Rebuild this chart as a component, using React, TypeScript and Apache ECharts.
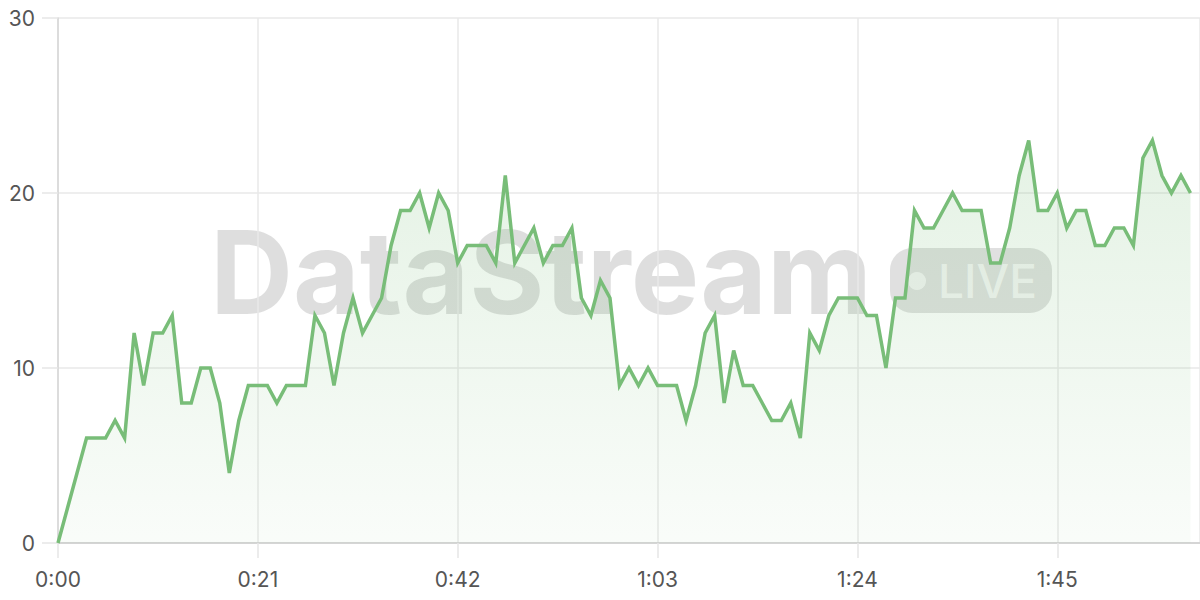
import React, { useEffect, useRef } from "react";
import * as echarts from "echarts";

// Values per second, 0:00 .. 1:59
const values: number[] = [
  0, 2, 4, 6, 6, 6, 7, 6, 12, 9,
  12, 12, 13, 8, 8, 10, 10, 8, 4, 7,
  9, 9, 9, 8, 9, 9, 9, 13, 12, 9,
  12, 14, 12, 13, 14, 17, 19, 19, 20, 18,
  20, 19, 16, 17, 17, 17, 16, 21, 16, 17,
  18, 16, 17, 17, 18, 14, 13, 15, 14, 9,
  10, 9, 10, 9, 9, 9, 7, 9, 12, 13,
  8, 11, 9, 9, 8, 7, 7, 8, 6, 12,
  11, 13, 14, 14, 14, 13, 13, 10, 14, 14,
  19, 18, 18, 19, 20, 19, 19, 19, 16, 16,
  18, 21, 23, 19, 19, 20, 18, 19, 19, 17,
  17, 18, 18, 17, 22, 23, 21, 20, 21, 20,
];

const xTickSeconds: number[] = [0, 21, 42, 63, 84, 105];
const yTicks: number[] = [0, 10, 20, 30];

const watermarkText = "DataStream";
const badgeText = "LIVE";

function fmt(sec: number): string {
  const m = Math.floor(sec / 60);
  const s = Math.round(sec % 60);
  return `${m}:${s < 10 ? "0" + s : s}`;
}

export default function App() {
  const ref = useRef<HTMLDivElement>(null);

  useEffect(() => {
    if (!ref.current) return;
    const chart = echarts.init(ref.current, undefined, { renderer: "svg" });
    const seriesData = values.map((v, i) => [i, v]);
    const lineColor = "#78bd78";
    chart.setOption({
      animation: false,
      backgroundColor: "#ffffff",
      grid: { left: 58, right: 0, top: 18, bottom: 57, containLabel: false },
      graphic: [
        {
          type: "text",
          z: 0,
          left: 210,
          top: 215,
          silent: true,
          style: {
            text: watermarkText,
            fontFamily: "Inter",
            fontWeight: "bold",
            fontSize: 115,
            fill: "rgba(0,0,0,0.13)",
          },
        },
        {
          type: "rect",
          z: 0,
          silent: true,
          shape: { x: 890, y: 248, width: 162, height: 65, r: 22 },
          style: { fill: "rgba(0,0,0,0.12)" },
        },
        {
          type: "circle",
          z: 0,
          silent: true,
          shape: { cx: 917, cy: 281, r: 9 },
          style: { fill: "rgba(255,255,255,0.65)" },
        },
        {
          type: "text",
          z: 0,
          silent: true,
          style: {
            x: 938,
            y: 281,
            text: badgeText,
            fontFamily: "Inter",
            fontWeight: 500,
            fontSize: 46,
            verticalAlign: "middle",
            fill: "rgba(255,255,255,0.7)",
          },
        },
      ],
      xAxis: {
        type: "value",
        min: 0,
        max: 120,
        interval: 21,
        axisLine: { show: true, lineStyle: { color: "#cccccc", width: 1.5 } },
        axisTick: { show: true, length: 15, lineStyle: { color: "#e6e6e6", width: 1.5 } },
        splitLine: { show: true, lineStyle: { color: "#e8e8e8", width: 1.5 } },
        axisLabel: {
          showMaxLabel: false,
          margin: 26,
          fontSize: 21,
          fontFamily: "Inter",
          color: "#555555",
          formatter: (v: number) => (xTickSeconds.includes(v) ? fmt(v) : ""),
        },
      },
      yAxis: {
        type: "value",
        min: yTicks[0],
        max: yTicks[yTicks.length - 1],
        interval: 10,
        axisLine: { show: true, onZero: false, lineStyle: { color: "#d6d6d6", width: 1.5 } },
        axisTick: { show: true, length: 16, lineStyle: { color: "#e6e6e6", width: 1.5 } },
        splitLine: { show: true, lineStyle: { color: "#e8e8e8", width: 1.5 } },
        axisLabel: {
          margin: 23,
          fontSize: 21,
          fontFamily: "Inter",
          color: "#555555",
        },
      },
      series: [
        {
          type: "line",
          data: seriesData,
          showSymbol: false,
          z: 3,
          lineStyle: { color: lineColor, width: 3.5, join: "miter" },
          itemStyle: { color: lineColor },
          areaStyle: {
            color: new echarts.graphic.LinearGradient(0, 0, 0, 1, [
              { offset: 0, color: "rgba(120,189,120,0.28)" },
              { offset: 1, color: "rgba(120,189,120,0.06)" },
            ]),
          },
        },
      ],
    });
    return () => chart.dispose();
  }, []);

  return (
    <div
      ref={ref}
      style={{ position: "fixed", left: 0, top: 0, width: 1200, height: 600 }}
    />
  );
}
